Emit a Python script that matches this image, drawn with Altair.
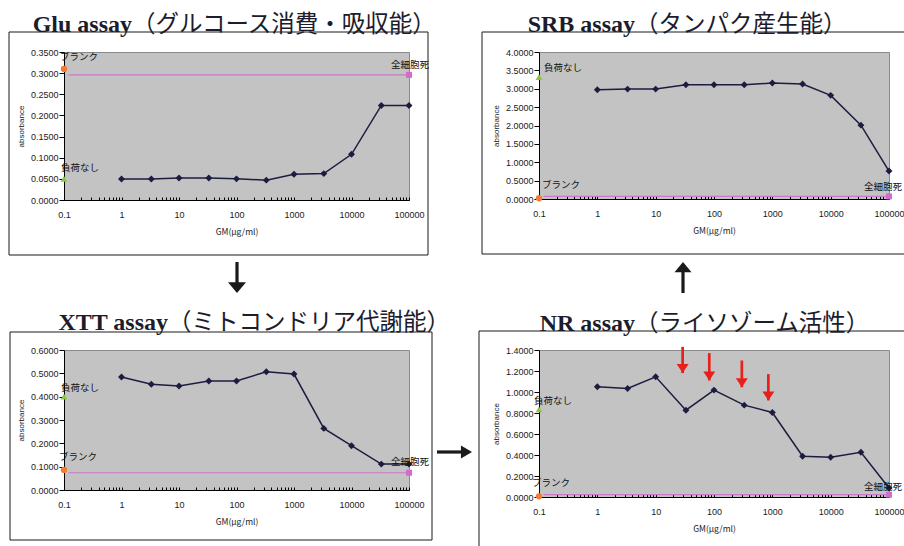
import altair as alt
import pandas as pd

# GM concentrations (µg/ml) used in every assay
conc = [1, 3.3, 10, 33, 100, 330, 1000, 3300, 10000, 33000, 100000]

# absorbance of the treated wells
glu_abs = [0.0498, 0.0498, 0.0520, 0.0520, 0.0500, 0.0470, 0.0608, 0.0624, 0.1080, 0.2236, 0.2236]
srb_abs = [2.975, 2.990, 2.990, 3.110, 3.110, 3.110, 3.155, 3.130, 2.820, 2.010, 0.760]
xtt_abs = [0.484, 0.453, 0.446, 0.467, 0.467, 0.507, 0.497, 0.264, 0.190, 0.111, 0.111]
nr_abs = [1.050, 1.034, 1.145, 0.827, 1.018, 0.875, 0.805, 0.388, 0.379, 0.426, 0.086]

# control wells: blank, untreated, all cells dead
glu_blank, glu_none, glu_dead = 0.310, 0.050, 0.296
srb_blank, srb_none, srb_dead = 0.020, 3.320, 0.070
xtt_blank, xtt_none, xtt_dead = 0.086, 0.400, 0.074
nr_blank, nr_none, nr_dead = 0.006, 0.834, 0.022

# y-axis ticks of each assay
glu_yticks = [0, 0.05, 0.10, 0.15, 0.20, 0.25, 0.30, 0.35]
srb_yticks = [0, 0.5, 1.0, 1.5, 2.0, 2.5, 3.0, 3.5, 4.0]
xtt_yticks = [0, 0.1, 0.2, 0.3, 0.4, 0.5, 0.6]
nr_yticks = [0, 0.2, 0.4, 0.6, 0.8, 1.0, 1.2, 1.4]

# x-axis (log) labels and minor ticks
x_labels = [0.1, 1, 10, 100, 1000, 10000, 100000]
x_minor = [m * 10.0 ** e for e in range(-1, 5) for m in range(1, 10)] + [100000]

# red arrows pointing at the NR dips
nr_arrow_x = [29, 83, 300, 855]
nr_arrow_top = [1.43, 1.37, 1.30, 1.17]
nr_arrow_tip = [1.18, 1.11, 1.045, 0.92]

NAVY = "#1c1c40"
ORANGE = "#f47a30"
GREEN = "#8cc43c"
PINK = "#d06ccc"
PINK_LINE = "#c87ac8"
RED = "#e8201c"
INK = "#1a1a1a"

NUM_FONT = "Liberation Sans Narrow, Liberation Sans, Arial"
JP_FONT = "Noto Sans CJK JP"
SERIF = "Liberation Serif"

HEAD_DOWN = "M-1,-1.2L1,-1.2L0,0Z"
HEAD_UP = "M-1,1.2L1,1.2L0,0Z"
HEAD_RIGHT = "M-1.7,-1L-1.7,1L0,0Z"
RED_HEAD = "M-1,-1.5L1,-1.5L0,0Z"

one = pd.DataFrame({"k": [0]})


def panel(title_en, title_jp, split, title_y, vals, yticks, blank, none, dead,
          w, h, frame, lab, extra=()):
    xs = alt.Scale(type="log", domain=[0.1, 100000], nice=False)
    ys = alt.Scale(domain=[0, yticks[-1]], nice=False, zero=True)

    frame_box = alt.Chart(one).mark_rect(
        fillOpacity=0, stroke=INK, strokeWidth=1
    ).encode(x=alt.value(frame[0]), x2=alt.value(frame[1]),
             y=alt.value(frame[2]), y2=alt.value(frame[3]))

    t_en = alt.Chart(one).mark_text(
        text=title_en, font=SERIF, fontSize=24, fontWeight="bold",
        align="right", baseline="alphabetic", color="#1c1c2c"
    ).encode(x=alt.value(split), y=alt.value(title_y))
    t_jp = alt.Chart(one).mark_text(
        text=title_jp, font=JP_FONT, fontSize=23.5,
        align="left", baseline="alphabetic", color="#1c1c2c"
    ).encode(x=alt.value(split), y=alt.value(title_y))

    df = pd.DataFrame({"x": conc, "y": vals})
    line = alt.Chart(df).mark_line(color=NAVY, strokeWidth=1.5).encode(
        x=alt.X("x:Q", scale=xs, axis=alt.Axis(
            values=x_labels, format="~g", ticks=False, tickSize=0, labelPadding=10,
            labelFlush=False, domainColor="#000", grid=False, title="GM(μg/ml)",
            titleFont=JP_FONT, titleFontSize=8.5, titleFontWeight="normal",
            titlePadding=8, labelFont=NUM_FONT, labelFontSize=9, labelColor=INK,
            titleColor=INK)),
        y=alt.Y("y:Q", scale=ys, axis=alt.Axis(
            values=yticks, format=".4f", tickSize=5, labelPadding=1, tickColor="#000",
            labelFlush=False, domainColor="#000", grid=False, title="absorbance",
            titleFont=NUM_FONT, titleFontSize=8, titleFontWeight="normal",
            titlePadding=5, labelFont=NUM_FONT, labelFontSize=9, labelColor=INK,
            titleColor=INK)),
    )

    dead_df = pd.DataFrame({"x": [0.12], "x2": [100000], "y": [dead]})
    dead_line = alt.Chart(dead_df).mark_rule(color=PINK_LINE, strokeWidth=1.2).encode(
        x=alt.X("x:Q", scale=xs, axis=alt.Axis(
            orient="top", offset=-h, values=x_minor, labels=False, domain=False,
            ticks=True, tickSize=3, tickColor="#000", grid=False, title=None)),
        x2="x2:Q",
        y=alt.Y("y:Q", scale=ys, axis=None),
    )

    pts = alt.Chart(df).mark_point(shape="diamond", filled=True, size=48,
                                   color=NAVY, opacity=1).encode(
        x=alt.X("x:Q", scale=xs, axis=None), y=alt.Y("y:Q", scale=ys, axis=None))

    def marker(xv, yv, shape, color, size):
        return alt.Chart(pd.DataFrame({"x": [xv], "y": [yv]})).mark_point(
            shape=shape, filled=True, size=size, color=color, opacity=1
        ).encode(x=alt.X("x:Q", scale=xs, axis=None), y=alt.Y("y:Q", scale=ys, axis=None))

    def label(xv, yv, text, align, dx, dy):
        return alt.Chart(pd.DataFrame({"x": [xv], "y": [yv]})).mark_text(
            text=text, font=JP_FONT, fontSize=9.5, align=align, baseline="middle",
            dx=dx, dy=dy, color="#111111"
        ).encode(x=alt.X("x:Q", scale=xs, axis=None), y=alt.Y("y:Q", scale=ys, axis=None))

    layers = [
        frame_box, t_en, t_jp, line, dead_line, pts,
        marker(0.1, blank, "circle", ORANGE, 40),
        marker(0.1, none, "triangle-up", GREEN, 45),
        marker(100000, dead, "square", PINK, 36),
        label(0.1, blank, "ブランク", "left", *lab["blank"]),
        label(0.1, none, "負荷なし", "left", *lab["none"]),
        label(100000, dead, "全細胞死", lab["dead_align"], *lab["dead"]),
    ] + [f(xs, ys) if callable(f) else f for f in extra]

    return alt.layer(*layers).resolve_axis(
        x="independent", y="independent"
    ).properties(width=w, height=h)


def nr_arrows(xs, ys):
    adf = pd.DataFrame({"x": nr_arrow_x, "top": nr_arrow_top, "tip": nr_arrow_tip})
    shaft = alt.Chart(adf).mark_rule(color=RED, strokeWidth=2.7).encode(
        x=alt.X("x:Q", scale=xs, axis=None),
        y=alt.Y("top:Q", scale=ys, axis=None), y2="tip:Q")
    head = alt.Chart(adf).mark_point(shape=RED_HEAD, filled=True, size=144,
                                     color=RED, opacity=1).encode(
        x=alt.X("x:Q", scale=xs, axis=None), y=alt.Y("tip:Q", scale=ys, axis=None))
    return alt.layer(shaft, head)


def flow_arrow(x1, y1, x2, y2, hx, hy, shape, size):
    shaft = alt.Chart(one).mark_rule(color=INK, strokeWidth=3.2).encode(
        x=alt.value(x1), x2=alt.value(x2), y=alt.value(y1), y2=alt.value(y2))
    head = alt.Chart(one).mark_point(shape=shape, filled=True, size=size,
                                     color=INK, opacity=1).encode(
        x=alt.value(hx), y=alt.value(hy))
    return alt.layer(shaft, head)


glu = panel("Glu assay", "（グルコース消費・吸収能）", 68, -20, glu_abs, glu_yticks,
            glu_blank, glu_none, glu_dead, 345, 148, (-55, 364, -20, 203),
            {"blank": (-4, -12), "none": (-3, -11), "dead": (1, -10),
             "dead_align": "center"},
            extra=[flow_arrow(173, 210, 173, 233, 173, 241, HEAD_DOWN, 324)])

srb = panel("SRB assay", "（タンパク産生能）", 96, -20, srb_abs, srb_yticks,
            srb_blank, srb_none, srb_dead, 350, 147, (-57, 420, -20, 202),
            {"blank": (3, -13), "none": (5, -9), "dead": (13, -9.5),
             "dead_align": "right"},
            extra=[flow_arrow(144, 218, 144, 241, 144, 210, HEAD_UP, 289)])

xtt = panel("XTT assay", "（ミトコンドリア代謝能）", 104, -20, xtt_abs, xtt_yticks,
            xtt_blank, xtt_none, xtt_dead, 345, 140, (-54, 368, -18, 190),
            {"blank": (-5, -13), "none": (-3, -9), "dead": (1, -11),
             "dead_align": "center"},
            extra=[flow_arrow(373, 102, 400, 102, 408, 102, HEAD_RIGHT, 169)])

nr = panel("NR assay", "（ライソゾーム活性）", 96, -19, nr_abs, nr_yticks,
           nr_blank, nr_none, nr_dead, 350, 147, (-60, 420, -19, 250),
           {"blank": (-7, -13), "none": (-5, -8.5), "dead": (13, -8),
            "dead_align": "right"},
           extra=[nr_arrows])

chart = alt.concat(
    glu, srb, xtt, nr, columns=2,
    spacing={"row": 150, "column": 130}, bounds="flush", align="each"
).configure_view(
    fill="#c3c3c3", stroke="#8a8a8a", strokeWidth=1
).configure_axis(
    labelFont=NUM_FONT, labelFontSize=9
).properties(
    autosize=alt.AutoSizeParams(type="none"),
    padding={"left": 64, "top": 52, "right": 840, "bottom": 494},
    background="white",
)

chart.save("out.html", embed_options={"renderer": "svg", "actions": False})
